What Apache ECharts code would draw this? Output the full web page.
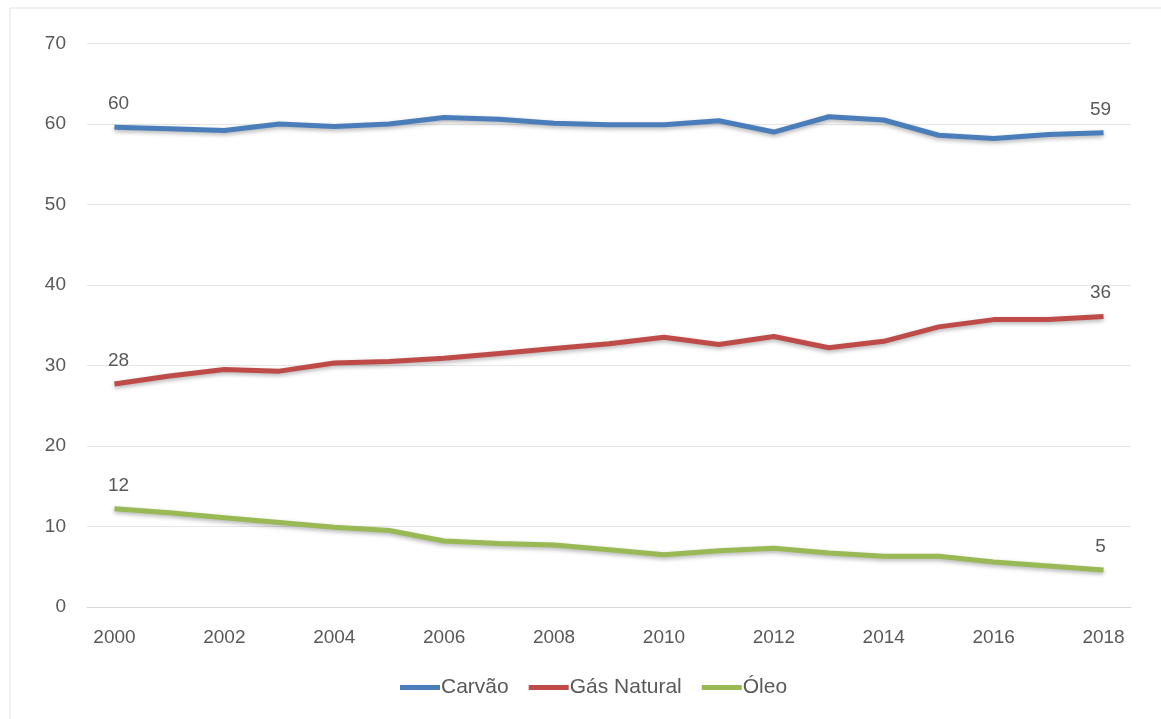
<!DOCTYPE html>
<html>
<head>
<meta charset="utf-8">
<script src="https://cdn.jsdelivr.net/npm/echarts@6/dist/echarts.min.js"></script>
<style>
  html, body { margin: 0; padding: 0; background: #fff; }
  #chart { width: 1161px; height: 719px; }
</style>
</head>
<body>
<div id="chart"></div>
<script>
// dados
var anos = ['2000', '2001', '2002', '2003', '2004', '2005', '2006', '2007', '2008', '2009',
            '2010', '2011', '2012', '2013', '2014', '2015', '2016', '2017', '2018'];
var carvao = [59.6, 59.4, 59.2, 60.0, 59.7, 60.0, 60.8, 60.6, 60.1, 59.9,
              59.9, 60.4, 59.0, 60.9, 60.5, 58.6, 58.2, 58.7, 58.9];
var gasNatural = [27.7, 28.7, 29.5, 29.3, 30.3, 30.5, 30.9, 31.5, 32.1, 32.7,
                  33.5, 32.6, 33.6, 32.2, 33.0, 34.8, 35.7, 35.7, 36.1];
var oleo = [12.2, 11.7, 11.1, 10.5, 9.9, 9.5, 8.2, 7.9, 7.7, 7.1,
            6.5, 7.0, 7.3, 6.7, 6.3, 6.3, 5.6, 5.1, 4.6];
var nomes = ['Carvão', 'Gás Natural', 'Óleo'];
var cores = ['#4a7ebb', '#be4b48', '#98b954'];

var fonte = 'Liberation Sans, Arial, sans-serif';
var cinza = '#595959';

var chart = echarts.init(document.getElementById('chart'));

function serie(nome, dados, cor) {
    return {
        name: nome,
        type: 'line',
        data: dados,
        symbol: 'circle',
        symbolSize: 0.01,
        showSymbol: true,
        smooth: false,
        lineStyle: {
            width: 5,
            color: cor,
            shadowColor: 'rgba(0,0,0,0.3)',
            shadowBlur: 4,
            shadowOffsetY: 2
        },
        itemStyle: { color: cor },
        label: {
            show: true,
            position: 'top',
            distance: 14,
            color: cinza,
            fontFamily: fonte,
            fontSize: 19,
            formatter: function (p) {
                if (p.dataIndex === 0 || p.dataIndex === dados.length - 1) {
                    return String(Math.round(p.value));
                }
                return '';
            }
        },
        labelLayout: function (p) {
            return p.dataIndex === 0 ? { dx: 4 } : { dx: -3 };
        }
    };
}

var option = {
    backgroundColor: '#ffffff',
    animation: false,
    graphic: [{
        type: 'rect',
        shape: { x: 10, y: 8, width: 1170, height: 730 },
        style: { fill: 'none', stroke: '#e3e3e3', lineWidth: 1 },
        silent: true
    }],
    grid: { left: 87, right: 30, top: 43.5, bottom: 112 },
    legend: {
        data: nomes,
        bottom: 16,
        left: 395,
        icon: 'rect',
        itemWidth: 40,
        itemHeight: 5,
        itemGap: 20,
        textStyle: { color: cinza, fontFamily: fonte, fontSize: 21, padding: [0, 0, 0, -4] }
    },
    xAxis: {
        type: 'category',
        data: anos,
        boundaryGap: true,
        axisLine: { show: true, lineStyle: { color: '#d9d9d9', width: 1 } },
        axisTick: { show: false },
        axisLabel: {
            interval: 1,
            color: cinza,
            fontFamily: fonte,
            fontSize: 19,
            margin: 21
        }
    },
    yAxis: {
        type: 'value',
        min: 0,
        max: 70,
        interval: 10,
        axisLine: { show: false },
        axisTick: { show: false },
        splitLine: { lineStyle: { color: '#e6e6e6', width: 1 } },
        axisLabel: {
            color: cinza,
            fontFamily: fonte,
            fontSize: 19,
            margin: 21
        }
    },
    series: [
        serie(nomes[0], carvao, cores[0]),
        serie(nomes[1], gasNatural, cores[1]),
        serie(nomes[2], oleo, cores[2])
    ]
};

chart.setOption(option);
</script>
</body>
</html>
